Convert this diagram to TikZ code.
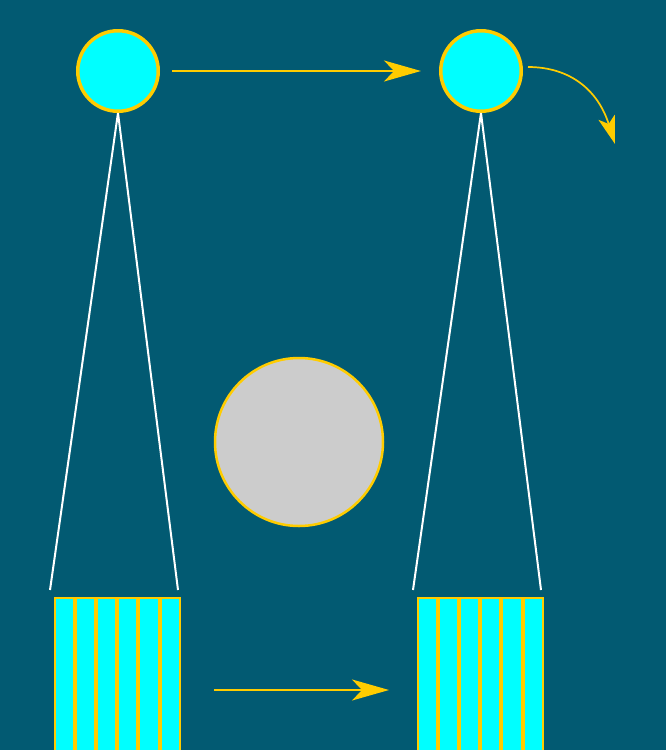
\documentclass[tikz,border=0pt]{standalone}
\usetikzlibrary{arrows.meta}
\definecolor{bg}{RGB}{2,90,114}
\definecolor{cyanf}{RGB}{0,255,255}
\definecolor{gold}{RGB}{255,204,0}
\definecolor{grayf}{RGB}{204,204,204}
\begin{document}
\begin{tikzpicture}[x=1pt,y=-1pt,
  ball/.style={circle,draw=gold,fill=cyanf,line width=3.5pt,minimum size=80.5pt,inner sep=0pt},
  bigball/.style={circle,draw=gold,fill=grayf,line width=2.5pt,minimum size=168pt,inner sep=0pt},
  bar/.style={draw=gold,fill=cyanf,line width=2pt,minimum width=19.2pt,minimum height=170pt,inner sep=0pt,anchor=north west},
  flow/.style={draw=gold,line width=2.2pt,-{Stealth[length=37pt,width=21pt,inset=10pt]}},
  curvy/.style={draw=gold,line width=1.7pt,-{Stealth[length=28pt,width=17pt,inset=7pt]}},
  ray/.style={draw=white,line width=2pt}]
\fill[bg] (0,0) rectangle (666,750);
\useasboundingbox (0,0) rectangle (666,750);
\node[ball] (c1) at (118,71) {};
\node[ball] (c2) at (481,71) {};
\node[bigball] (g) at (299,442) {};
\foreach \i in {0,...,5}{
  \node[bar] (l\i) at ({53.5+21.2*\i},596.5) {};
  \node[bar] (r\i) at ({416.5+21.2*\i},596.5) {};
}
\coordinate (a1) at (50,590);
\coordinate (b1) at (178,590);
\coordinate (a2) at (413,590);
\coordinate (b2) at (541,590);
\draw[ray] (c1.south) -- (a1);
\draw[ray] (c1.south) -- (b1);
\draw[ray] (c2.south) -- (a2);
\draw[ray] (c2.south) -- (b2);
\coordinate (t0) at (172,71);
\coordinate (t1) at (421,71);
\draw[flow] (t0) -- (t1);
\coordinate (u0) at (214,690);
\coordinate (u1) at (389,690);
\draw[flow] (u0) -- (u1);
\coordinate (e0) at (528,67);
\coordinate (e1) at (615,144);
\draw[curvy] (e0) .. controls (570,67) and (598,90) .. (e1);
\end{tikzpicture}
\end{document}
